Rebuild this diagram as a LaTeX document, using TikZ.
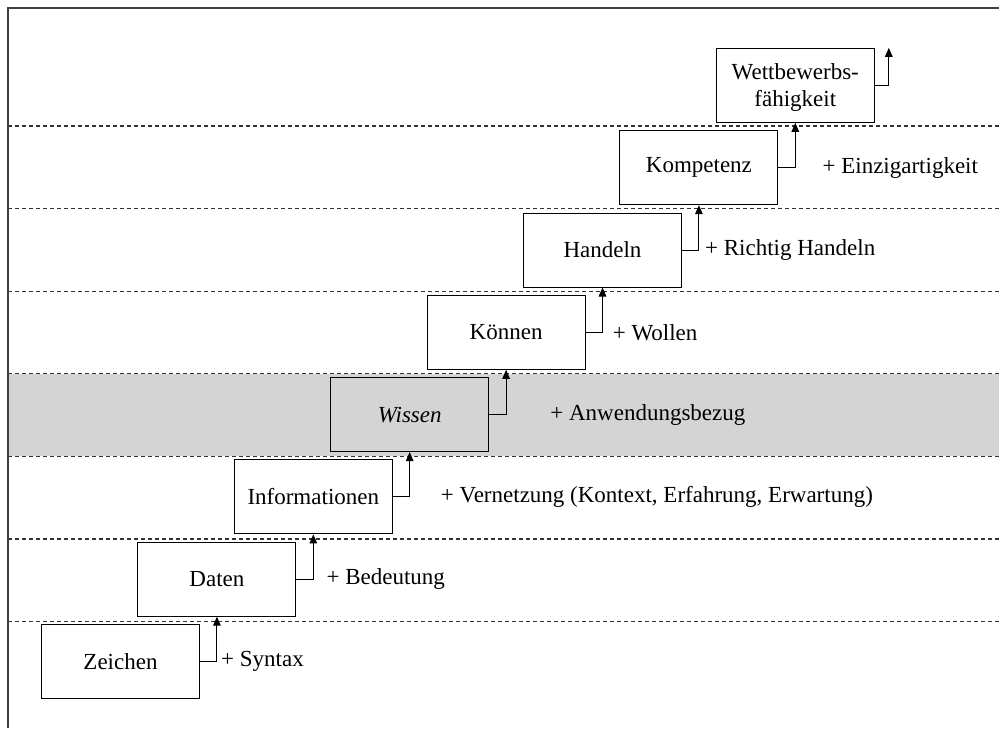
\documentclass[tikz,border=0pt]{standalone}
\usepackage{fontspec}
\setmainfont{Liberation Serif}
\usetikzlibrary{positioning,arrows.meta}

\tikzset{
  stufe/.style={draw, rectangle, fill=white, minimum width=79pt, minimum height=37pt, align=center, on grid},
  trenner/.style={dash pattern=on 2pt off 1.5pt, draw=black!80, line width=0.55pt},
}

\begin{document}
\begin{tikzpicture}[x=0.5pt, y=-0.5pt, >={Triangle[length=4.5pt,width=3.8pt]}, line width=0.5pt, every node/.style={font=\fontsize{11.5}{13}\selectfont}, node distance=41.15pt and 48.2pt]
\useasboundingbox (0,0) rectangle (999,728);
% Hintergrund und Ebenen
\fill[black!17] (8,374) rectangle (999,456);
\draw[trenner] (8,126) -- (999,126) (8,208.6) -- (999,208.6) (8,291.2) -- (999,291.2)
  (8,373.8) -- (999,373.8) (8,456.4) -- (999,456.4) (8,539) -- (999,539) (8,621.6) -- (999,621.6);
\draw[line width=0.8pt, black!75] (8,728) -- (8,8) -- (999,8);

% Treppe
\node[stufe] (Zeichen) at (120.5,661.5) {Zeichen};
\node[stufe] (Daten) [above right=of Zeichen] {Daten};
\node[stufe] (Informationen) [above right=of Daten] {Informationen};
\node[stufe, fill=black!17] (Wissen) [above right=of Informationen] {\itshape Wissen};
\node[stufe] (Koennen) [above right=of Wissen] {Können};
\node[stufe] (Handeln) [above right=of Koennen] {Handeln};
\node[stufe] (Kompetenz) [above right=of Handeln] {Kompetenz};
\node[stufe, font=\fontsize{11.5}{13.5}\selectfont, text depth=0pt] (Wettbewerb) [above right=of Kompetenz] {Wettbewerbs-\\fähigkeit};

\draw[->] (Zeichen.east) -| (Daten.south);
\draw[->] (Daten.east) -| (Informationen.south);
\draw[->] (Informationen.east) -| (Wissen.south);
\draw[->] (Wissen.east) -| (Koennen.south);
\draw[->] (Koennen.east) -| (Handeln.south);
\draw[->] (Handeln.east) -| (Kompetenz.south);
\draw[->] (Kompetenz.east) -| (Wettbewerb.south);
\coordinate[right=7pt of Wettbewerb.north east] (ausgang);
\draw[->] (Wettbewerb.east) -| (ausgang);

% Zusaetze
\node (syntax) [right=7pt of Zeichen] {+ Syntax};
\node (bedeutung) [right=11.5pt of Daten] {+ Bedeutung};
\node (vernetzung) [right=20.5pt of Informationen] {+ Vernetzung (Kontext, Erfahrung, Erwartung)};
\node (anwendung) [right=27pt of Wissen] {+ Anwendungsbezug};
\node (wollen) [right=10pt of Koennen] {+ Wollen};
\node (richtig) [right=8pt of Handeln] {+ Richtig Handeln};
\node (einzig) [right=18.5pt of Kompetenz] {+ Einzigartigkeit};
\end{tikzpicture}
\end{document}
